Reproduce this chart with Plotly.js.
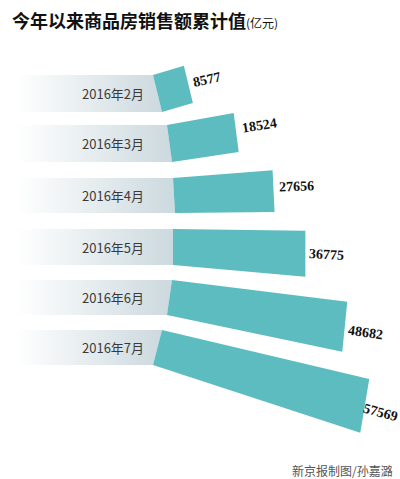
<!DOCTYPE html>
<html>
<head>
<meta charset="utf-8">
<script src="https://cdn.plot.ly/plotly-3.0.1.min.js"></script>
<style>html,body{margin:0;padding:0;background:#fff;}#chart{width:400px;height:479px;}</style>
</head>
<body>
<div id="chart"></div>
<script>
// ---- data ----
const months = ['2016年2月', '2016年3月', '2016年4月', '2016年5月', '2016年6月', '2016年7月'];
const values = [8577, 18524, 27656, 36775, 48682, 57569];
const titleText = '今年以来商品房销售额累计值';
const unitText = '(亿元)';
const sourceText = '新京报制图/孙嘉潞';

// ---- styling / layout geometry (pixels) ----
const W = 400, H = 479;
const k = 0.0036;          // px per unit along the bar
const zeroPx = 170;        // pixel where value 0 sits
const leftTopPx = [153, 167, 173, 173, 172, 162];
const leftBotPx = [162, 172, 175, 173, 167, 153];
const topY = [75, 125, 178, 229, 280, 330];
const botY = [112, 162, 213, 265, 315, 365];
const slopeTop = [-0.30, -0.18, -0.078, 0.014, 0.124, 0.237];
const slopeBot = [-0.29, -0.15, -0.01, 0.088, 0.21, 0.327];
const labelFrac = [0.38, 0.33, 0.38, 0.52, 0.62, 0.63];
const labelShift = [20, 24, 23, 21, 21, 17];
const labelAngle = [-13, -9, -2, 3, 8, 15];
const teal = '#5cbcc0';

const px2x = p => (p - zeroPx) / k;
const xMin = px2x(0), xMax = px2x(W);

const traces = [];
const annotations = [];

values.forEach((v, i) => {
  const xlt = px2x(leftTopPx[i]), xlb = px2x(leftBotPx[i]);
  const xrt = xlt + v, xrb = xlb + v;
  const lenPx = v * k;
  const yrt = topY[i] + slopeTop[i] * lenPx;
  const yrb = botY[i] + slopeBot[i] * lenPx;

  // grey gradient band
  traces.push({
    type: 'scatter', mode: 'lines', fill: 'toself',
    x: [xMin, xlt, xlb, xMin, xMin], y: [topY[i], topY[i], botY[i], botY[i], topY[i]],
    line: {width: 0, color: 'rgba(0,0,0,0)'},
    fillgradient: {type: 'horizontal', colorscale: [[0, '#ffffff'], [0.1, '#ffffff'], [1, '#ccd9de']]},
    hoverinfo: 'skip', showlegend: false
  });
  // teal bar
  traces.push({
    type: 'scatter', mode: 'lines', fill: 'toself',
    x: [xlt, xrt, xrb, xlb, xlt], y: [topY[i], yrt, yrb, botY[i], topY[i]],
    line: {width: 0, color: teal}, fillcolor: teal,
    hoverinfo: 'skip', showlegend: false
  });
  // month label
  annotations.push({
    x: px2x(146), y: (topY[i] + botY[i]) / 2, xref: 'x', yref: 'y',
    text: months[i], showarrow: false, xanchor: 'right', yanchor: 'middle',
    font: {family: 'Noto Sans CJK SC, sans-serif', size: 13, color: '#3a3a3a'}
  });
  // value label
  const f = labelFrac[i];
  annotations.push({
    x: xrt + (xrb - xrt) * f, y: yrt + (yrb - yrt) * f, xref: 'x', yref: 'y',
    text: String(values[i]), showarrow: false, xanchor: 'center', yanchor: 'middle',
    xshift: labelShift[i], textangle: labelAngle[i],
    font: {family: 'Liberation Serif, serif', size: 14, color: '#111', weight: 'bold'}
  });
});

annotations.push({
  x: 395 / W, y: 1 - 470 / H, xref: 'paper', yref: 'paper',
  text: sourceText, showarrow: false, xanchor: 'right', yanchor: 'middle',
  font: {family: 'Noto Sans CJK SC, sans-serif', size: 12, color: '#555'}
});

const layout = {
  width: W, height: H,
  margin: {l: 0, r: 0, t: 0, b: 0},
  paper_bgcolor: '#ffffff', plot_bgcolor: '#ffffff',
  title: {
    text: '<b>' + titleText + '</b><span style="font-size:12px;font-weight:normal">' + unitText + '</span>',
    x: 12 / W, xanchor: 'left', xref: 'container',
    y: 1 - 22 / H, yanchor: 'middle', yref: 'container',
    font: {family: 'Noto Sans CJK SC, sans-serif', size: 18, color: '#111'}
  },
  xaxis: {range: [xMin, xMax], visible: false, fixedrange: true},
  yaxis: {range: [H, 0], visible: false, fixedrange: true},
  annotations: annotations
};

Plotly.newPlot('chart', traces, layout, {displayModeBar: false, staticPlot: true});
</script>
</body>
</html>
